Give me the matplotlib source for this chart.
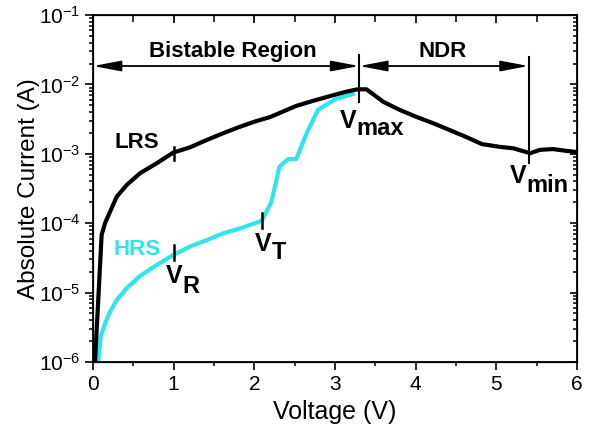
import numpy as np
import matplotlib
matplotlib.use("Agg")
from matplotlib import pyplot as plt
from matplotlib.ticker import MultipleLocator, LogLocator, NullFormatter

plt.rcParams['font.family'] = ['Liberation Sans', 'DejaVu Sans']
plt.rcParams['mathtext.fontset'] = 'custom'
plt.rcParams['mathtext.rm'] = 'Liberation Sans'
plt.rcParams['mathtext.bf'] = 'Liberation Sans:bold'

# Courbe LRS (noire)
lrs_v = [0.025, 0.107, 0.149, 0.21, 0.294, 0.418, 0.582, 0.789, 0.995, 1.202, 1.409,
         1.6, 1.8, 2.0, 2.2, 2.32, 2.52, 2.73, 2.94, 3.14, 3.28, 3.39, 3.6, 3.8, 4.01,
         4.22, 4.42, 4.63, 4.82, 5.04, 5.21, 5.42, 5.54, 5.7, 5.87, 6.0]
lrs_i = [1.0e-6, 6.8e-5, 1.0e-4, 1.45e-4, 2.41e-4, 3.55e-4, 5.24e-4, 7.3e-4, 1.04e-3,
         1.24e-3, 1.58e-3, 1.95e-3, 2.4e-3, 2.9e-3, 3.4e-3, 3.9e-3, 4.9e-3, 5.8e-3,
         6.8e-3, 7.85e-3, 8.5e-3, 8.5e-3, 5.6e-3, 4.3e-3, 3.4e-3, 2.75e-3, 2.2e-3,
         1.74e-3, 1.38e-3, 1.26e-3, 1.2e-3, 1.02e-3, 1.14e-3, 1.17e-3, 1.1e-3, 1.06e-3]

# Courbe HRS (cyan)
hrs_v = [0.066, 0.095, 0.149, 0.211, 0.294, 0.417, 0.582, 0.789, 0.995, 1.2, 1.41,
         1.615, 1.82, 2.09, 2.21, 2.27, 2.31, 2.42, 2.52, 2.65, 2.79, 3.0, 3.22]
hrs_i = [1.0e-6, 2.3e-6, 3.6e-6, 5.3e-6, 7.8e-6, 1.15e-5, 1.73e-5, 2.5e-5, 3.48e-5,
         4.6e-5, 5.7e-5, 7.15e-5, 8.4e-5, 1.08e-4, 2.0e-4, 4.0e-4, 6.5e-4, 8.4e-4,
         8.4e-4, 2.0e-3, 4.3e-3, 6.1e-3, 7.25e-3]

v_max = 3.3
v_min = 5.4
v_t = 2.09
v_r = 1.0
arrow_y = 1.84e-2

cyan = '#2fe4ef'

fig = plt.figure(figsize=(5.95, 4.32), dpi=100)
ax = fig.add_axes([93 / 595, 1 - 362 / 432, (577 - 93) / 595, (362 - 15) / 432])

ax.plot(lrs_v, lrs_i, color='black', lw=3, solid_joinstyle='round', zorder=3)
ax.plot(hrs_v, hrs_i, color=cyan, lw=3, solid_joinstyle='round', zorder=2)

ax.set_yscale('log')
ax.set_xlim(0, 6)
ax.set_ylim(1e-6, 1e-1)

# Fleches des regions
arr = dict(arrowstyle='<|-|>,head_length=0.85,head_width=0.16', color='black',
           lw=1.3, mutation_scale=20, shrinkA=0, shrinkB=0)
ax.annotate('', xy=(v_max, arrow_y), xytext=(0, arrow_y), arrowprops=arr)
ax.annotate('', xy=(v_min, arrow_y), xytext=(v_max, arrow_y), arrowprops=arr)
ax.plot([v_max, v_max], [2.65e-2, 5.6e-3], color='black', lw=1.5)
ax.plot([v_min, v_min], [2.48e-2, 7.4e-4], color='black', lw=1.5)

# Petits reperes sur les courbes
ax.plot([v_r, v_r], [1.25e-3, 8.1e-4], color='black', lw=1.8, zorder=4)
ax.plot([v_r, v_r], [4.85e-5, 2.95e-5], color='black', lw=1.8, zorder=4)
ax.plot([v_t, v_t], [1.4e-4, 8.5e-5], color='black', lw=1.8, zorder=4)

bold = dict(fontsize=16, fontweight='bold', va='baseline')
ax.text(1.735, 2.48e-2, 'Bistable Region', ha='center', **bold)
ax.text(4.34, 2.48e-2, 'NDR', ha='center', **bold)
ax.text(0.27, 1.21e-3, 'LRS', ha='left', **bold)
ax.text(0.25, 3.48e-5, 'HRS', ha='left', color=cyan, **bold)


def vlabel(x, y, sub, drop):
    ax.text(x, y, 'V', ha='right', fontsize=18, fontweight='bold', va='baseline')
    ax.annotate(sub, xy=(x, y), xytext=(0, -drop), textcoords='offset points',
                ha='left', va='baseline', fontsize=17, fontweight='bold')


vlabel(1.103, 1.37e-5, 'R', 7)
vlabel(2.218, 3.98e-5, 'T', 6)
vlabel(3.27, 2.36e-3, 'max', 5)
vlabel(5.378, 3.79e-4, 'min', 6.5)

ax.set_xlabel('Voltage (V)', fontsize=18, labelpad=5)
ax.set_ylabel('Absolute Current (A)', fontsize=17.5, labelpad=-1)

ax.xaxis.set_major_locator(MultipleLocator(1))
ax.xaxis.set_minor_locator(MultipleLocator(0.5))
ax.yaxis.set_major_locator(LogLocator(base=10, numticks=10))
ax.yaxis.set_minor_locator(LogLocator(base=10, subs=np.arange(2, 10), numticks=20))
ax.yaxis.set_minor_formatter(NullFormatter())
ax.tick_params(which='major', direction='out', length=6, width=1.2, labelsize=15, pad=3)
ax.tick_params(which='minor', direction='out', length=3, width=1.1)
for s in ax.spines.values():
    s.set_linewidth(1.3)

# Axes miroirs avec graduations vers l'interieur
top = ax.twiny()
top.set_xlim(ax.get_xlim())
top.xaxis.set_major_locator(MultipleLocator(1))
top.xaxis.set_minor_locator(MultipleLocator(0.5))
top.tick_params(which='major', direction='in', length=6, width=1.2, labeltop=False)
top.tick_params(which='minor', direction='in', length=5, width=1.1)

right = ax.twinx()
right.set_yscale('log')
right.set_ylim(ax.get_ylim())
right.yaxis.set_major_locator(LogLocator(base=10, numticks=10))
right.yaxis.set_minor_locator(LogLocator(base=10, subs=np.arange(2, 10), numticks=20))
right.tick_params(which='major', direction='in', length=5, width=1.2, labelright=False)
right.tick_params(which='minor', direction='in', length=3, width=1.1)
right.yaxis.set_minor_formatter(NullFormatter())

fig.savefig('out.png', dpi=100)
